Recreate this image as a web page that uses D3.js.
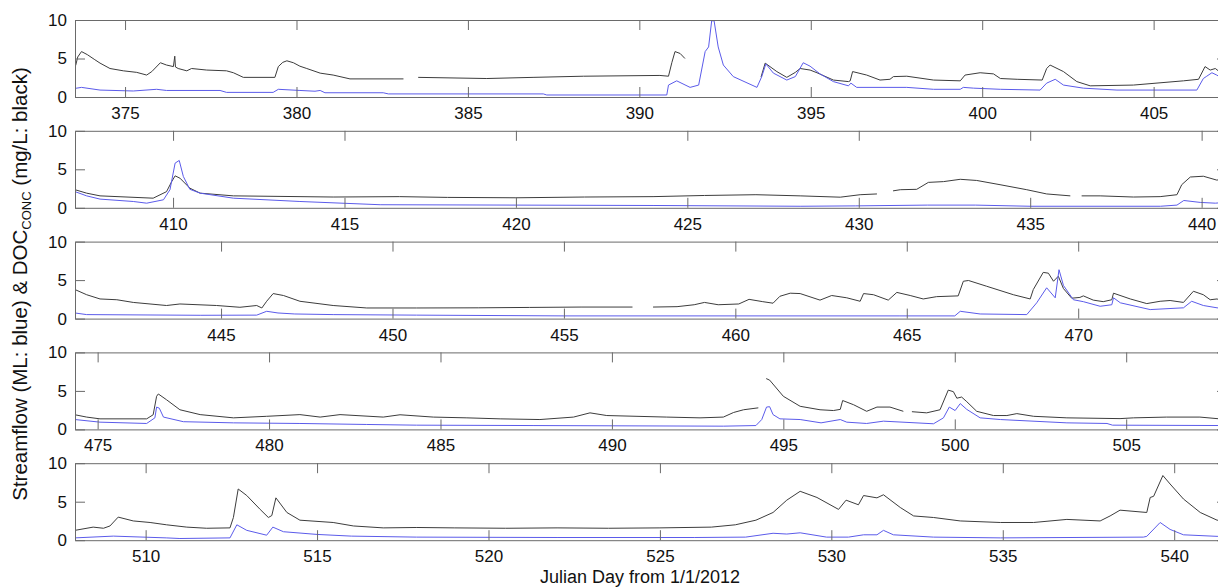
<!DOCTYPE html>
<html>
<head>
<meta charset="utf-8">
<script src="https://cdn.jsdelivr.net/npm/d3@7"></script>
<style>
  body { margin: 0; background: #fff; overflow: hidden; }
  svg { font-family: 'Liberation Sans', Arial, sans-serif; }
  .axis text { font-size: 17px; fill: #111; }
  .axis path, .axis line { stroke: #6a6a6a; }
</style>
</head>
<body>
<div id="chart"></div>
<script>
// panel layout: 5 stacked strips, each covers 33.6 days
const panelStarts = [373.54, 407.14, 440.74, 474.34, 507.94]
const panelSpan = 33.6
const yTicks = [0, 5, 10]

// DOC concentration (mg/L, black); null = gap in record
const docConc = [
  [373.56, 4.1], [373.62, 5.2], [373.73, 5.9], [373.9, 5.5], [374.1, 4.9], [374.27, 4.4], [374.56, 3.7],
  [374.95, 3.4], [375.34, 3.2], [375.63, 2.85], [375.78, 3.3], [376.03, 4.45], [376.21, 4.15], [376.41, 3.95],
  [376.45, 5.3], [376.47, 3.9], [376.55, 3.7], [376.8, 3.4], [376.94, 3.7], [377.38, 3.5], [377.96, 3.4],
  [378.16, 3.15], [378.45, 2.55], [379.37, 2.55], [379.47, 3.95], [379.6, 4.5], [379.72, 4.7], [379.91, 4.45],
  [380.1, 4.0], [380.3, 3.7], [380.69, 3.1], [381.07, 2.85], [381.56, 2.35], [383.12, 2.35], [383.2, null],
  [383.55, 2.55], [385.55, 2.4], [386.9, 2.55], [388.37, 2.7], [390.6, 2.8], [390.85, 2.7], [390.95, 4.5],
  [391.04, 5.9], [391.19, 5.65], [391.33, 5.0], [391.4, null], [393.55, 2.6], [393.67, 4.4], [394.01, 3.3],
  [394.3, 2.55], [394.55, 3.2], [394.69, 3.7], [394.98, 3.5], [395.18, 3.15], [395.66, 2.2], [396.1, 2.0],
  [396.15, 2.1], [396.22, 3.3], [396.63, 2.85], [397.02, 2.2], [397.31, 2.3], [397.41, 2.65], [397.8, 2.7],
  [398.58, 2.2], [399.36, 2.1], [399.5, 2.85], [399.94, 3.15], [400.33, 3.0], [400.53, 2.4], [401.02, 2.3],
  [401.75, 2.2], [401.88, 3.7], [401.98, 4.15], [402.37, 3.3], [402.76, 2.0], [403.15, 1.45], [404.41, 1.55],
  [405.87, 2.1], [406.31, 2.3], [406.5, 3.95], [406.65, 3.5], [406.8, 3.7], [407.0, 3.0],
  [407.14, 2.35], [407.48, 1.9], [407.87, 1.55], [409.42, 1.25], [409.81, 2.1], [409.96, 3.4], [410.06, 4.15],
  [410.2, 3.85], [410.49, 2.55], [410.79, 1.9], [411.76, 1.55], [414.67, 1.4], [416.6, 1.45], [418, 1.35],
  [420, 1.3], [422, 1.4], [424, 1.45], [425.5, 1.6], [427, 1.7], [428.29, 1.55], [429.46, 1.38], [430.04, 1.7],
  [430.53, 1.8], [430.65, null], [431.0, 2.2], [431.21, 2.35], [431.69, 2.4], [432.03, 3.3], [432.47, 3.4],
  [432.96, 3.7], [433.44, 3.55], [434.12, 3.0], [434.9, 2.35], [435.48, 1.8], [436.17, 1.55], [436.3, null],
  [436.5, 1.55], [437.04, 1.55], [438.01, 1.4], [438.79, 1.45], [439.28, 1.7], [439.42, 3.0], [439.67, 4.0],
  [440.05, 4.1], [440.44, 3.6], [440.7, 3.75],
  [440.74, 3.77], [441.08, 3.1], [441.47, 2.55], [441.96, 2.45], [442.44, 2.1], [443.41, 1.7], [443.8, 1.9],
  [444.87, 1.7], [445.55, 1.47], [446.04, 1.7], [446.19, 1.38], [446.33, 2.25], [446.52, 3.25], [446.82, 3.0],
  [447.3, 2.25], [448.27, 1.7], [449.25, 1.38], [450.7, 1.38], [452.5, 1.4], [454, 1.45],
  [455.5, 1.5], [457.0, 1.5], [457.1, null], [457.6, 1.5], [458.3, 1.55], [458.8, 1.8],
  [459.1, 2.1], [459.5, 1.8], [460.1, 1.9], [460.4, 2.5], [460.8, 2.2], [461.1, 2.0], [461.3, 2.9],
  [461.6, 3.3], [461.89, 3.25], [462.47, 2.4], [462.81, 3.0], [463.25, 2.7], [463.64, 2.25], [463.74, 3.25],
  [464.03, 3.1], [464.46, 2.4], [464.71, 3.4], [465.1, 3.0], [465.48, 2.55], [465.87, 2.85], [466.5, 2.95],
  [466.65, 4.85], [466.8, 4.95], [467.33, 4.2], [468.11, 3.1], [468.6, 2.55], [468.69, 3.77], [468.98, 6.0],
  [469.13, 5.9], [469.28, 4.85], [469.42, 5.5], [469.57, 3.9], [469.81, 2.65], [470.05, 2.75], [470.15, 2.95],
  [470.44, 2.4], [470.73, 2.2], [470.98, 2.45], [471.03, 3.3], [471.52, 2.55], [472.0, 1.95], [472.39, 2.25],
  [472.68, 2.35], [473.07, 2.1], [473.36, 3.55], [473.65, 3.1], [473.85, 2.45], [474.05, 2.55], [474.3, 2.1],
  [474.34, 1.9], [474.68, 1.6], [475.07, 1.37], [476.43, 1.37], [476.62, 1.9], [476.72, 4.3], [476.77, 4.6],
  [477.01, 3.85], [477.4, 2.55], [477.99, 1.92], [478.96, 1.5], [479.93, 1.7], [480.9, 1.92], [481.49, 1.6],
  [482.07, 1.92], [483.33, 1.6], [483.82, 1.9], [484.79, 1.6], [485.77, 1.5], [486.74, 1.37], [487.9, 1.28],
  [488.88, 1.6], [489.36, 2.15], [489.85, 1.8], [491.6, 1.6], [492.57, 1.5], [493.25, 1.6], [493.55, 2.2],
  [493.84, 2.55], [494.27, 2.8], [494.35, null], [494.5, 6.6], [494.6, 6.4], [495.0, 4.3], [495.49, 3.0],
  [496.07, 2.55], [496.46, 2.45], [496.66, 2.6], [496.73, 3.75], [497.05, 3.2], [497.43, 2.35], [497.73, 2.9],
  [498.11, 2.9], [498.5, 2.35], [498.6, null], [498.75, 2.3], [499.18, 2.15], [499.57, 2.55], [499.81, 5.1],
  [499.96, 4.9], [500.06, 4.05], [500.2, 4.2], [500.35, 3.6], [500.64, 2.35], [501.13, 1.8], [501.52, 1.8],
  [501.81, 2.05], [502.3, 1.7], [503.27, 1.5], [504.82, 1.4], [505.21, 1.5], [506.18, 1.6], [507.15, 1.6],
  [507.9, 1.3],
  [507.94, 1.28], [508.47, 1.7], [508.77, 1.55], [508.96, 1.85], [509.2, 3.0], [509.64, 2.5], [510.13, 2.3],
  [510.61, 2.0], [511.2, 1.7], [511.78, 1.55], [512.46, 1.6], [512.56, 2.95], [512.7, 6.65], [512.95, 5.8],
  [513.34, 4.0], [513.58, 2.95], [513.68, 3.2], [513.8, 5.5], [514.12, 3.6], [514.5, 2.6], [515.47, 2.3],
  [516.06, 1.85], [516.93, 1.6], [517.91, 1.65], [519, 1.6], [520.5, 1.55], [522, 1.6], [523.5, 1.55],
  [525, 1.6], [526.5, 1.7], [527.2, 2.0], [527.8, 2.6], [528.3, 3.6], [528.7, 5.2], [529.09, 6.35],
  [529.58, 5.55], [530.21, 4.0], [530.43, 5.2], [530.79, 4.6], [530.94, 5.8], [531.33, 5.5], [531.52, 5.9],
  [532.01, 4.25], [532.4, 3.15], [532.98, 2.95], [533.76, 2.5], [534.93, 2.3], [535.9, 2.3], [536.87, 2.7],
  [537.84, 2.5], [538.13, 3.15], [538.42, 3.9], [539.2, 3.6], [539.3, 5.55], [539.4, 5.7], [539.67, 8.4],
  [539.88, 7.3], [540.27, 5.35], [540.76, 3.6], [541.25, 2.6], [541.6, 2.5]
]

// streamflow (ML, blue)
const streamflow = [
  [373.56, 1.13], [373.73, 1.25], [374.27, 0.9], [375.24, 0.78], [375.92, 1.0], [376.21, 0.85], [377.77, 0.85],
  [377.96, 0.6], [379.32, 0.6], [379.47, 1.0], [380.1, 0.85], [380.54, 0.75], [380.69, 0.85], [380.83, 0.55],
  [382.53, 0.55], [382.68, 0.4], [387.2, 0.4], [387.3, 0.26], [390.8, 0.26], [390.85, 1.55], [391.09, 2.1],
  [391.48, 1.25], [391.73, 1.55], [391.92, 5.9], [392.02, 6.5], [392.11, 9.9], [392.18, 9.9], [392.3, 6.5],
  [392.45, 4.15], [392.74, 2.65], [393.43, 1.25], [393.57, 2.65], [393.69, 4.3], [393.91, 3.1], [394.3, 2.2],
  [394.55, 2.65], [394.78, 4.45], [394.98, 4.0], [395.27, 3.0], [395.66, 2.0], [396.1, 1.45], [396.17, 1.8],
  [396.34, 1.25], [397.8, 1.25], [398.58, 1.0], [399.36, 1.0], [399.45, 1.25], [399.75, 1.15], [400.53, 1.0],
  [401.69, 0.9], [401.88, 1.8], [402.13, 2.3], [402.37, 1.55], [402.95, 1.15], [403.93, 0.9], [406.26, 0.9],
  [406.45, 2.4], [406.55, 2.7], [406.7, 3.15], [406.84, 2.85], [407.0, 2.4],
  [407.14, 2.1], [407.48, 1.55], [407.87, 1.13], [408.84, 0.82], [409.23, 0.6], [409.72, 1.04], [409.91, 2.35],
  [410.06, 5.8], [410.18, 6.15], [410.3, 4.07], [410.49, 2.4], [410.79, 1.9], [411.76, 1.25], [413.7, 0.82],
  [416.04, 0.4], [420, 0.35], [424, 0.3], [428.29, 0.2], [429.9, 0.25], [432, 0.35], [433.4, 0.35], [435, 0.2],
  [438.8, 0.2], [439.28, 0.35], [439.48, 0.95], [439.96, 0.7], [440.4, 0.6],
  [440.74, 0.73], [441.08, 0.52], [444.39, 0.43], [446.04, 0.45], [446.33, 0.95], [446.66, 0.73], [447.15, 0.6],
  [448.27, 0.52], [450.7, 0.45], [455, 0.35], [460, 0.35], [464.8, 0.35], [466.4, 0.35], [466.56, 0.95],
  [467.14, 0.6], [468.5, 0.52], [468.79, 2.05], [469.08, 4.0], [469.33, 2.7], [469.44, 6.35], [469.57, 4.3],
  [469.86, 2.45], [470.15, 2.2], [470.64, 1.6], [470.98, 1.8], [471.03, 2.7], [471.23, 2.05], [472.1, 1.17],
  [473.07, 1.4], [473.31, 2.25], [473.65, 1.7], [474.05, 1.4],
  [474.34, 1.28], [475.07, 0.94], [476.43, 0.77], [476.67, 1.5], [476.72, 2.9], [476.8, 2.75], [476.92, 1.6],
  [477.5, 1.0], [478.96, 0.85], [480.9, 0.77], [482.85, 0.64], [484.3, 0.55], [487.7, 0.5], [493.25, 0.42],
  [494.2, 0.5], [494.37, 1.28], [494.51, 2.9], [494.6, 2.95], [494.7, 1.92], [494.9, 1.37], [495.49, 1.28],
  [496.1, 0.85], [496.66, 1.28], [496.85, 0.94], [497.43, 0.77], [497.92, 1.07], [499.38, 0.73], [499.67, 1.5],
  [499.84, 2.9], [500.01, 2.45], [500.16, 3.35], [500.35, 2.6], [500.74, 1.5], [501.33, 1.28], [503.27, 0.85],
  [504.44, 0.77], [504.6, 0.55], [507.9, 0.5],
  [507.94, 0.3], [509.06, 0.53], [510.6, 0.3], [511.0, 0.22], [512.46, 0.3], [512.66, 2.0], [512.95, 1.28],
  [513.53, 0.65], [513.71, 1.7], [514.02, 1.1], [515.0, 0.75], [516.0, 0.53], [517.9, 0.4], [522, 0.35],
  [526, 0.35], [527.5, 0.4], [528.3, 0.9], [528.7, 0.8], [529.09, 0.96], [529.86, 0.4], [530.5, 0.4],
  [530.94, 0.7], [531.33, 0.7], [531.52, 1.28], [531.81, 0.7], [532.98, 0.4], [534.93, 0.3], [539.1, 0.4],
  [539.2, 0.5], [539.59, 2.3], [539.88, 1.4], [540.27, 0.7], [541.25, 0.5], [541.6, 0.5]
]

const width = 1218
const height = 588
const left = 75
const plotW = 1152 // runs a little past the window edge, like the original
const panelH = 77
const panelTop0 = 20
const panelStep = 110.8

const svg = d3.select('#chart')
  .append('svg')
  .attr('width', width)
  .attr('height', height)

panelStarts.forEach((start, i) => {
  const top = panelTop0 + i * panelStep
  const xScale = d3.scaleLinear()
    .domain([start, start + panelSpan])
    .range([left, left + plotW])
  const yScale = d3.scaleLinear()
    .domain([0, 10])
    .range([top + panelH, top])

  const xTicks = d3.range(Math.ceil(start / 5) * 5, start + panelSpan, 5)

  const g = svg.append('g').attr('class', 'panel')

  g.append('clipPath')
    .attr('id', 'clip' + i)
    .append('rect')
    .attr('x', left)
    .attr('y', top)
    .attr('width', plotW)
    .attr('height', panelH)

  const line = d3.line()
    .defined(d => d[1] !== null)
    .x(d => xScale(d[0]))
    .y(d => yScale(d[1]))

  const inRange = d => d[0] >= start - 0.6 && d[0] <= start + panelSpan + 0.6

  g.append('path')
    .datum(docConc.filter(inRange))
    .attr('clip-path', `url(#clip${i})`)
    .attr('fill', 'none')
    .attr('stroke', '#3c3c3c')
    .attr('stroke-width', 1)
    .attr('d', line)

  g.append('path')
    .datum(streamflow.filter(inRange))
    .attr('clip-path', `url(#clip${i})`)
    .attr('fill', 'none')
    .attr('stroke', '#5b5bea')
    .attr('stroke-width', 1)
    .attr('d', line)

  // axes: ticks point inward on all four sides, like matlab
  g.append('g')
    .attr('class', 'axis')
    .attr('transform', `translate(0,${top + panelH})`)
    .call(d3.axisBottom(xScale).tickValues(xTicks).tickSize(-10).tickSizeOuter(0).tickPadding(10))

  g.append('g')
    .attr('class', 'axis')
    .attr('transform', `translate(0,${top})`)
    .call(d3.axisTop(xScale).tickValues(xTicks).tickSize(-10).tickSizeOuter(0).tickFormat(''))

  g.append('g')
    .attr('class', 'axis')
    .attr('transform', `translate(${left},0)`)
    .call(d3.axisLeft(yScale).tickValues(yTicks).tickSize(-10).tickSizeOuter(0).tickPadding(8))

  g.append('g')
    .attr('class', 'axis')
    .attr('transform', `translate(${left + plotW},0)`)
    .call(d3.axisRight(yScale).tickValues(yTicks).tickSize(-10).tickSizeOuter(0).tickFormat(''))
})

svg.append('text')
  .attr('x', 640)
  .attr('y', 583)
  .attr('text-anchor', 'middle')
  .attr('font-size', 18)
  .attr('fill', '#111')
  .text('Julian Day from 1/1/2012')

const yLabel = svg.append('text')
  .attr('transform', 'translate(27,284) rotate(-90)')
  .attr('text-anchor', 'middle')
  .attr('font-size', 20.5)
  .attr('fill', '#111')
yLabel.append('tspan').text('Streamflow (ML: blue) & DOC')
yLabel.append('tspan').attr('font-size', 13).attr('dy', 4).text('CONC')
yLabel.append('tspan').attr('dy', -4).text(' (mg/L: black)')
</script>
</body>
</html>
